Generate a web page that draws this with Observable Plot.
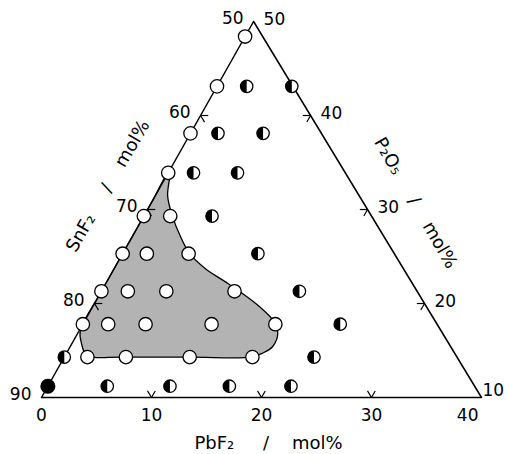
<!DOCTYPE html>
<html><head><meta charset="utf-8">
<script src="https://cdn.jsdelivr.net/npm/d3@7"></script>
<script src="https://cdn.jsdelivr.net/npm/@observablehq/plot@0.6"></script>
<style>body{margin:0;background:#fff} svg{display:block}</style>
</head><body><div id="chart"></div>
<script>
// Compositions (mol%): SnF2 = 100 - PbF2 - P2O5
// Glass (open circles)
const openPbF2 = [0, 0, 0, 0, 0, 2.4, 0, 2.2, 6.0, 0, 2.4, 5.9, 12.1, 0, 2.3, 5.7, 11.7, 17.5, 2.1, 5.6, 11.4, 17.1];
const openP2O5 = [48.4, 43.1, 38.1, 33.9, 29.3, 29.3, 25.3, 25.3, 25.3, 21.3, 21.3, 21.3, 21.3, 17.8, 17.8, 17.8, 17.8, 17.8, 14.3, 14.3, 14.3, 14.3];
// Partially crystallized (half-filled circles)
const halfPbF2 = [2.7, 6.8, 2.5, 6.6, 2.3, 6.3, 6.2, 12.3, 18.0, 23.4, 0, 22.7, 5.4, 11.1, 16.5, 22.1];
const halfP2O5 = [43.1, 43.1, 38.1, 38.1, 33.9, 33.9, 29.3, 25.3, 21.3, 17.8, 14.3, 14.3, 11.2, 11.2, 11.2, 11.2];
// Crystallized (filled circle)
const solidPbF2 = [0];
const solidP2O5 = [11.2];
// Glass-forming region boundary
const regionPbF2 = [0, 1.1, 2.6, 4.4, 6.1, 8.3, 10.8, 12.7, 15.1, 17.1, 18.2, 18.4, 17.8, 17.0, 11.5, 5.1, 2.6, 1.7, 0.9, 0.1, 0, 0, 0];
const regionP2O5 = [34.3, 31.5, 29.3, 27.1, 25.3, 23.7, 22.3, 21.2, 19.7, 18.2, 16.8, 15.4, 14.7, 14.3, 14.3, 14.3, 14.3, 14.7, 15.7, 17.1, 21, 26, 31];
// Triangle corners
const cornerPbF2 = [0, 40, 0];
const cornerP2O5 = [10, 10, 50];
// Ticks and labels
const tickPbF2 = [10, 20, 30];
const tickSnF2 = [60, 70, 80];
const tickP2O5 = [40, 30, 20];
const labelPbF2 = [0, 10, 20, 30, 40];
const labelSnF2 = [50, 60, 70, 80, 90];
const labelP2O5 = [50, 40, 30, 20, 10];
const titlePbF2 = ["PbF\u2082\u00a0\u00a0\u00a0\u00a0\u00a0/\u00a0\u00a0\u00a0\u00a0mol%"];
const titleSnF2 = ["SnF\u2082\u00a0\u00a0\u00a0\u00a0\u00a0/\u00a0\u00a0\u00a0\u00a0mol%"];
const titleP2O5 = ["P\u2082O\u2085\u00a0\u00a0\u00a0\u00a0\u00a0/\u00a0\u00a0\u00a0\u00a0mol%"];

// ternary projection (partial triangle)
const SKEW = 0.482;
const X = (pb, p) => pb + SKEW * (p - 10);
const Y = p => p - 10;
const zip = (a, b) => a.map((pb, i) => ({pb, p: b[i]}));
const openPts = zip(openPbF2, openP2O5);
const halfPts = zip(halfPbF2, halfP2O5);
const solidPts = zip(solidPbF2, solidP2O5);
const region = zip(regionPbF2, regionP2O5);
const corners = zip(cornerPbF2, cornerP2O5);

const t = 0.7;
const ticks = [];
for (const v of tickPbF2) { ticks.push({a:[v,10], b:[v,10+t]}, {a:[v,10], b:[v-t,10+t]}); }
for (const v of tickSnF2) { const p = 100 - v; ticks.push({a:[0,p], b:[t,p]}, {a:[0,p], b:[t,p-t]}); }
for (const v of tickP2O5) { const pb = 50 - v; ticks.push({a:[pb,v], b:[pb-t,v]}, {a:[pb,v], b:[pb,v-t]}); }

const halfLeft = {
  draw(context, size) {
    const r = Math.sqrt(size / Math.PI);
    context.moveTo(0, -r);
    context.arc(0, 0, r, -Math.PI / 2, Math.PI / 2, true);
    context.closePath();
  }
};

const px = d => X(d.pb, d.p), py = d => Y(d.p);
const FS = 17;
const font = "DejaVu Sans";

const chart = Plot.plot({
  width: 507, height: 454,
  marginTop: 0, marginRight: 0, marginBottom: 0, marginLeft: 0,
  x: {domain: [0, 40], range: [41, 481], axis: null},
  y: {domain: [0, 40], range: [397, 21], axis: null},
  style: {background: "white", fontFamily: font},
  marks: [
    Plot.line(region, {x: px, y: py, curve: "catmull-rom-closed", fill: "url(#stipple)", stroke: "black", strokeWidth: 1.3}),
    Plot.line(corners, {x: px, y: py, curve: "linear-closed", stroke: "black", strokeWidth: 1.5}),
    Plot.link(ticks, {x1: d => X(d.a[0], d.a[1]), y1: d => Y(d.a[1]), x2: d => X(d.b[0], d.b[1]), y2: d => Y(d.b[1]), stroke: "black", strokeWidth: 1.2}),
    Plot.dot(openPts, {x: px, y: py, r: 6.7, fill: "white", stroke: "black", strokeWidth: 1.3}),
    Plot.dot(halfPts, {x: px, y: py, r: 6.2, fill: "white", stroke: "black", strokeWidth: 1.3}),
    Plot.dot(halfPts, {x: px, y: py, r: 6.2, symbol: halfLeft, fill: "black", stroke: "none"}),
    Plot.dot(solidPts, {x: px, y: py, r: 6.8, fill: "black", stroke: "black"}),
    // bottom (PbF2) labels
    Plot.text(labelPbF2.filter(v => v < 40), {x: v => X(v, 10), y: () => Y(10), text: d => String(d), dy: 18, fontSize: FS, fill: "black"}),
    Plot.text(labelPbF2.filter(v => v === 40), {x: v => X(v, 10), y: () => Y(10), text: d => String(d), dy: 18, dx: -3, textAnchor: "end", fontSize: FS, fill: "black"}),
    // left (SnF2) labels
    Plot.text(labelSnF2, {x: v => X(0, 100 - v), y: v => Y(100 - v), text: d => String(d), dx: -10, dy: -3, textAnchor: "end", fontSize: FS, fill: "black"}),
    // right (P2O5) labels
    Plot.text(labelP2O5.filter(v => v > 10), {x: v => X(50 - v, v), y: v => Y(v), text: d => String(d), dx: 10, dy: -2, textAnchor: "start", fontSize: FS, fill: "black"}),
    Plot.text(labelP2O5.filter(v => v === 10), {x: v => X(50 - v, v), y: v => Y(v), text: d => String(d), dx: 1, dy: -7, textAnchor: "start", fontSize: FS, fill: "black"}),
    // axis titles
    Plot.text(titlePbF2, {x: () => X(20, 10), y: () => Y(10), text: d => d, dx: 7, dy: 46, fontSize: 18, fill: "black"}),
    Plot.text(titleSnF2, {x: () => X(0, 32.5), y: () => Y(32.5), text: d => d, dx: -53, rotate: -60, fontSize: 18, fill: "black"}),
    Plot.text(titleP2O5, {x: () => X(19.3, 30.7), y: () => Y(30.7), text: d => d, dx: 52, rotate: 60, fontSize: 18, fill: "black"})
  ]
});

const defs = d3.select(chart).insert("defs", ":first-child");
const pat = defs.append("pattern").attr("id", "stipple").attr("width", 2).attr("height", 2).attr("patternUnits", "userSpaceOnUse");
pat.append("rect").attr("width", 2).attr("height", 2).attr("fill", "#ffffff");
pat.append("rect").attr("width", 1).attr("height", 1).attr("fill", "#000000");
pat.append("rect").attr("x", 1).attr("y", 1).attr("width", 1).attr("height", 1).attr("fill", "#cccccc");

document.getElementById("chart").appendChild(chart);
</script>
</body></html>
